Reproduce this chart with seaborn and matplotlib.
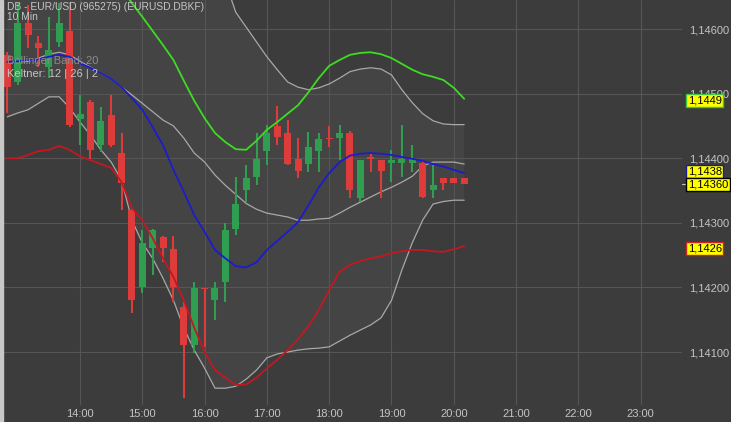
import matplotlib
matplotlib.use("Agg")
import matplotlib.pyplot as plt
import matplotlib.transforms as mtransforms
import pandas as pd
import seaborn as sns

# 10-minute bars
times = ["12:50", "13:00", "13:10", "13:20", "13:30", "13:40", "13:50", "14:00", "14:10", "14:20",
         "14:30", "14:40", "14:50", "15:00", "15:10", "15:20", "15:30", "15:40", "15:50", "16:00",
         "16:10", "16:20", "16:30", "16:40", "16:50", "17:00", "17:10", "17:20", "17:30", "17:40",
         "17:50", "18:00", "18:10", "18:20", "18:30", "18:40", "18:50", "19:00", "19:10", "19:20",
         "19:30", "19:40", "19:50", "20:00", "20:10"]

opens = [1.14560, 1.14518, 1.14609, 1.14578, 1.14541, 1.14580, 1.14597, 1.14461, 1.14487, 1.14420,
         1.14467, 1.14408, 1.14320, 1.14201, 1.14261, 1.14278, 1.14259, 1.14170, 1.14111, 1.14199,
         1.14180, 1.14208, 1.14290, 1.14351, 1.14371, 1.14411, 1.14450, 1.14439, 1.14399, 1.14391,
         1.14411, 1.14432, 1.14431, 1.14439, 1.14338, 1.14402, 1.14397, 1.14393, 1.14393, 1.14393,
         1.14393, 1.14351, 1.14369, 1.14369, 1.14369]
highs = [1.14564, 1.14640, 1.14637, 1.14589, 1.14619, 1.14640, 1.14642, 1.14498, 1.14490, 1.14479,
         1.14498, 1.14439, 1.14322, 1.14289, 1.14290, 1.14279, 1.14280, 1.14177, 1.14208, 1.14199,
         1.14208, 1.14300, 1.14371, 1.14389, 1.14439, 1.14451, 1.14481, 1.14459, 1.14431, 1.14441,
         1.14439, 1.14450, 1.14451, 1.14442, 1.14398, 1.14408, 1.14398, 1.14413, 1.14451, 1.14420,
         1.14397, 1.14389, 1.14370, 1.14369, 1.14369]
lows = [1.14470, 1.14513, 1.14571, 1.14541, 1.14524, 1.14572, 1.14448, 1.14420, 1.14399, 1.14410,
        1.14417, 1.14320, 1.14160, 1.14191, 1.14219, 1.14239, 1.14177, 1.14029, 1.14098, 1.14108,
        1.14150, 1.14177, 1.14281, 1.14332, 1.14359, 1.14389, 1.14420, 1.14389, 1.14369, 1.14379,
        1.14379, 1.14417, 1.14397, 1.14338, 1.14332, 1.14379, 1.14338, 1.14363, 1.14371, 1.14379,
        1.14338, 1.14338, 1.14351, 1.14362, 1.14362]
closes = [1.14510, 1.14609, 1.14591, 1.14571, 1.14567, 1.14609, 1.14451, 1.14468, 1.14413, 1.14458,
          1.14420, 1.14362, 1.14180, 1.14269, 1.14289, 1.14261, 1.14201, 1.14111, 1.14199, 1.14197,
          1.14199, 1.14289, 1.14329, 1.14369, 1.14399, 1.14439, 1.14433, 1.14391, 1.14380, 1.14417,
          1.14430, 1.14430, 1.14439, 1.14351, 1.14397, 1.14399, 1.14380, 1.14397, 1.14399, 1.14399,
          1.14340, 1.14359, 1.14362, 1.14362, 1.14360]

# Keltner channel (12 | 26 | 2)
kelt_mid = [1.14549, 1.14550, 1.14552, 1.14553, 1.14557, 1.14560, 1.14557, 1.14547, 1.14540, 1.14532,
            1.14523, 1.14510, 1.14493, 1.14475, 1.14448, 1.14420, 1.14382, 1.14348, 1.14312, 1.14286,
            1.14258, 1.14245, 1.14233, 1.14231, 1.14239, 1.14258, 1.14272, 1.14286, 1.14301, 1.14327,
            1.14355, 1.14377, 1.14394, 1.14404, 1.14407, 1.14408, 1.14407, 1.14405, 1.14402, 1.14399,
            1.14396, 1.14391, 1.14387, 1.14382, 1.14377]
kelt_up_start = 11
kelt_up = [1.14664, 1.14640, 1.14619, 1.14597, 1.14575, 1.14552, 1.14520, 1.14489, 1.14462,
           1.14439, 1.14425, 1.14414, 1.14413, 1.14427, 1.14444, 1.14456, 1.14469, 1.14482, 1.14502,
           1.14524, 1.14543, 1.14552, 1.14560, 1.14563, 1.14564, 1.14561, 1.14555, 1.14546, 1.14537,
           1.14530, 1.14526, 1.14521, 1.14509, 1.14492]
kelt_low = [1.14400, 1.14400, 1.14405, 1.14411, 1.14413, 1.14419, 1.14413, 1.14403, 1.14397, 1.14391,
            1.14385, 1.14363, 1.14323, 1.14304, 1.14276, 1.14245, 1.14216, 1.14180, 1.14138, 1.14100,
            1.14072, 1.14060, 1.14049, 1.14050, 1.14060, 1.14075, 1.14088, 1.14103, 1.14120, 1.14140,
            1.14165, 1.14196, 1.14224, 1.14235, 1.14241, 1.14245, 1.14248, 1.14253, 1.14256, 1.14258,
            1.14258, 1.14256, 1.14255, 1.14259, 1.14264]

# Bollinger band (20)
bb_mid = [1.14547, 1.14549, 1.14550, 1.14555, 1.14561, 1.14564, 1.14560, 1.14550, 1.14541, 1.14532,
          1.14523, 1.14510, 1.14498, 1.14485, 1.14472, 1.14459, 1.14450, 1.14431, 1.14408, 1.14394,
          1.14374, 1.14358, 1.14344, 1.14330, 1.14321, 1.14315, 1.14312, 1.14309, 1.14304, 1.14304,
          1.14306, 1.14307, 1.14315, 1.14324, 1.14332, 1.14340, 1.14348, 1.14355, 1.14363, 1.14372,
          1.14388, 1.14394, 1.14394, 1.14394, 1.14391]
bb_low = [1.14464, 1.14470, 1.14475, 1.14485, 1.14495, 1.14495, 1.14478, 1.14456, 1.14436, 1.14413,
          1.14394, 1.14366, 1.14304, 1.14269, 1.14245, 1.14214, 1.14180, 1.14137, 1.14103, 1.14075,
          1.14044, 1.14044, 1.14047, 1.14058, 1.14072, 1.14091, 1.14097, 1.14100, 1.14103, 1.14105,
          1.14106, 1.14108, 1.14117, 1.14126, 1.14134, 1.14142, 1.14153, 1.14180, 1.14227, 1.14269,
          1.14304, 1.14329, 1.14333, 1.14335, 1.14335]
bb_up = [1.14660, 1.14662, 1.14664, 1.14666, 1.14668, 1.14670, 1.14672, 1.14675, 1.14680, 1.14685,
         1.14690, 1.14695, 1.14700, 1.14702, 1.14698, 1.14704, 1.14719, 1.14726, 1.14713, 1.14713,
         1.14704, 1.14673, 1.14626, 1.14603, 1.14580, 1.14557, 1.14537, 1.14518, 1.14510, 1.14506,
         1.14509, 1.14515, 1.14524, 1.14534, 1.14538, 1.14540, 1.14538, 1.14529, 1.14506, 1.14486,
         1.14469, 1.14458, 1.14453, 1.14452, 1.14452]

hour_ticks = [14, 15, 16, 17, 18, 19, 20, 21, 22, 23]
price_ticks = [1.141, 1.142, 1.143, 1.144, 1.145, 1.146]

# price badges on the right: (label, value, border colour)
badges = [("1,1449", 1.1449, "#3cc83c"), ("1,1438", 1.1438, "#1a1aa0"),
          ("1,14360", 1.1436, "#000000"), ("1,1426", 1.1426, "#d02020")]
last_price = 1.1436

BG = "#3c3c3c"
FILL = "#444444"
GRID = "#565656"
TXT = "#c4c4c4"
UP = "#2f9e50"
DOWN = "#de3b3b"

sns.set_style("dark", {"axes.facecolor": BG, "figure.facecolor": BG})
plt.rcParams["font.family"] = ["Liberation Sans", "DejaVu Sans"]

df = pd.DataFrame({"time": times, "open": opens, "high": highs, "low": lows, "close": closes})
df["hour"] = [int(t[:2]) + int(t[3:]) / 60 for t in df["time"]]
df["mid"] = kelt_mid
df["low_k"] = kelt_low
df["bb_mid"] = bb_mid
df["bb_low"] = bb_low
df["bb_up"] = bb_up

fig = plt.figure(figsize=(7.31, 4.22), dpi=100)
ax = fig.add_axes([3 / 731, 17 / 422, 679 / 731, 405 / 422])
ax.set_facecolor(BG)

# bollinger fill + lines
ax.fill_between(df["hour"], df["bb_low"], df["bb_up"], color=FILL, lw=0, zorder=0)
for col in ["bb_up", "bb_mid", "bb_low"]:
    sns.lineplot(data=df, x="hour", y=col, color="#a8a8a8", lw=0.9, ax=ax, zorder=2)

# candles
bar_w = 7 / 62.3
for _, r in df.iterrows():
    c = UP if r["close"] >= r["open"] else DOWN
    ax.vlines(r["hour"], r["low"], r["high"], color=c, lw=1.5, zorder=3)
    body = max(abs(r["close"] - r["open"]), 0.000015)
    ax.bar(r["hour"], body, bottom=min(r["open"], r["close"]), width=bar_w, color=c, lw=0, zorder=3)

# keltner lines
sns.lineplot(data=df, x="hour", y="mid", color="#1c1ccc", lw=1.3, ax=ax, zorder=4)
sns.lineplot(data=df, x="hour", y="low_k", color="#c41820", lw=1.3, ax=ax, zorder=4)
sns.lineplot(x=df["hour"][kelt_up_start:], y=kelt_up, color="#3ddc22", lw=1.3, ax=ax, zorder=4)

ax.set_xlim(12.764, 23.663)
ax.set_ylim(1.140180, 1.146449)
ax.set_xticks(hour_ticks)
ax.set_xticklabels([f"{h}:00" for h in hour_ticks])
ax.set_yticks(price_ticks)
ax.set_yticklabels([f"{p:.5f}".replace(".", ",") for p in price_ticks])
ax.yaxis.tick_right()
ax.tick_params(axis="both", length=0, colors=TXT, labelsize=8)
ax.tick_params(axis="y", pad=5)
ax.tick_params(axis="x", pad=3)
ax.grid(True, color=GRID, lw=0.8)
ax.set_axisbelow(True)
ax.set_xlabel("")
ax.set_ylabel("")
for s in ax.spines.values():
    s.set_visible(False)

trans = mtransforms.blended_transform_factory(ax.transAxes, ax.transData)
ax.plot([1.0, 1.007], [last_price, last_price], color=TXT, lw=0.8, transform=trans, clip_on=False)
for lab, val, ec in badges:
    ax.text(1.0085, val, lab, transform=trans, ha="left", va="center", fontsize=8, color="black",
            zorder=10, clip_on=False,
            bbox=dict(boxstyle="square,pad=0.14", fc="#ffff00", ec=ec, lw=1))

fig.text(7 / 731, 1 - 7 / 422, "DB - EUR/USD (965275) (EURUSD.DBKF)", color=TXT, fontsize=7.4, va="center")
fig.text(7 / 731, 1 - 17 / 422, "10 Min", color=TXT, fontsize=7.4, va="center")
fig.text(7 / 731, 1 - 61 / 422, "Bollinger Band: 20", color="#8c8c8c", fontsize=8, va="center")
fig.text(7 / 731, 1 - 74 / 422, "Keltner: 12 | 26 | 2", color=TXT, fontsize=8, va="center")

# light strip at the left edge
fig.patches.append(plt.Rectangle((0, 0), 3 / 731, 1, transform=fig.transFigure, color="#c8c8c8"))

fig.savefig("out.png", dpi=100, facecolor=BG)
